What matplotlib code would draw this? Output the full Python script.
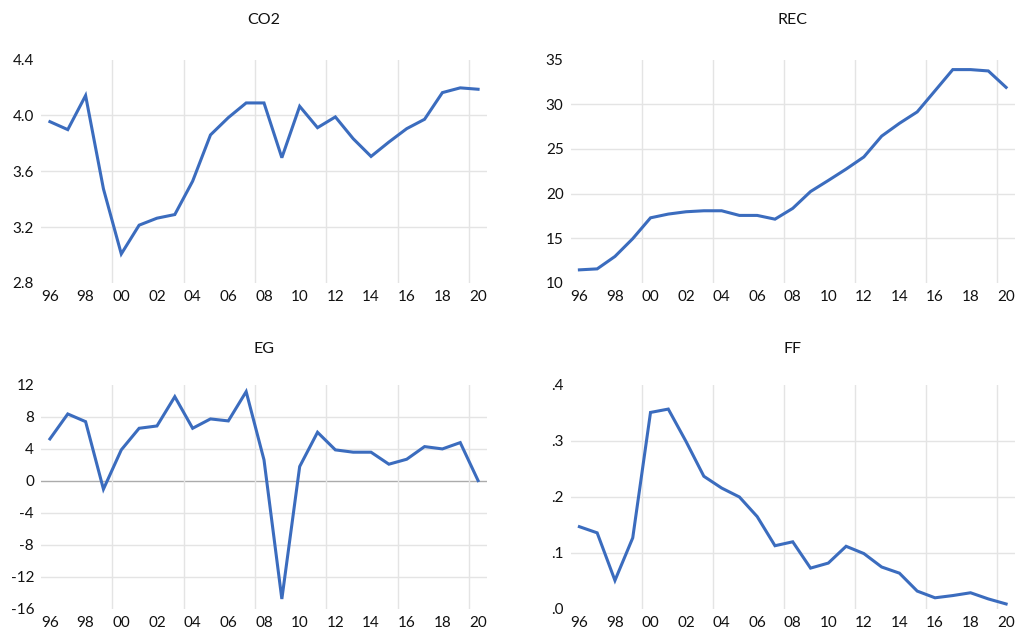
import matplotlib
matplotlib.use("Agg")
import matplotlib.pyplot as plt
from matplotlib.ticker import FixedLocator, FuncFormatter

plt.rcParams['font.family'] = ['Lato', 'DejaVu Sans']

years = list(range(1996, 2021))

co2 = [3.955, 3.898, 4.142, 3.474, 3.008, 3.214, 3.264, 3.290, 3.529, 3.860,
       3.984, 4.089, 4.089, 3.697, 4.065, 3.912, 3.989, 3.833, 3.706, 3.809,
       3.905, 3.972, 4.163, 4.197, 4.187]
rec = [11.47, 11.58, 12.97, 14.96, 17.29, 17.71, 17.97, 18.08, 18.08, 17.56,
       17.56, 17.14, 18.35, 20.23, 21.47, 22.74, 24.10, 26.43, 27.86, 29.14,
       31.50, 33.87, 33.87, 33.72, 31.88]
eg = [5.26, 8.38, 7.42, -1.02, 3.89, 6.59, 6.88, 10.54, 6.59, 7.76,
      7.51, 11.17, 2.64, -14.75, 1.81, 6.09, 3.89, 3.60, 3.60, 2.10,
      2.72, 4.30, 4.01, 4.80, 0.05]
ff = [0.147, 0.136, 0.051, 0.127, 0.351, 0.357, 0.299, 0.237, 0.216, 0.200,
      0.165, 0.113, 0.120, 0.073, 0.082, 0.112, 0.099, 0.075, 0.064, 0.032,
      0.020, 0.024, 0.029, 0.018, 0.009]

titles = ["CO2", "REC", "EG", "FF"]
series = [co2, rec, eg, ff]
ylims = [(2.8, 4.4), (10, 35), (-16, 12), (0.0, 0.4)]
yticks = [[2.8, 3.2, 3.6, 4.0, 4.4],
          [10, 15, 20, 25, 30, 35],
          [-16, -12, -8, -4, 0, 4, 8, 12],
          [0.0, 0.1, 0.2, 0.3, 0.4]]
xlabel_years = list(range(1996, 2021, 2))
xgrid_years = [1999.5, 2003.5, 2007.5, 2011.5, 2015.5, 2019.5]

W, H = 1017, 632
# axes boxes in pixels: left, top, right, bottom
boxes = [(41, 59.5, 487, 283), (570.5, 59.5, 1015, 283),
         (41, 385, 487, 609), (570.5, 385, 1015, 609)]
title_y = [20, 20, 349, 349]

line_color = "#3B6CBE"
grid_color = "#E4E4E4"

fig = plt.figure(figsize=(W / 100, H / 100), dpi=100)

def fmt_factory(i):
    def f(v, pos):
        if i == 0:
            return f"{v:.1f}"
        if i == 3:
            s = f"{v:.1f}"
            return s[1:] if s.startswith("0") else s
        return f"{int(round(v))}"
    return f

for i in range(4):
    l, t, r, b = boxes[i]
    ax = fig.add_axes([l / W, 1 - b / H, (r - l) / W, (b - t) / H])
    ax.set_xlim(1995.5, 2020.5)
    ax.set_ylim(*ylims[i])
    for yv in yticks[i]:
        if yv == ylims[i][0] or yv == ylims[i][1]:
            continue
        if i == 2 and yv == 0:
            ax.axhline(yv, color="#ABABAB", lw=1.0, zorder=1)
        else:
            ax.axhline(yv, color=grid_color, lw=1.0, zorder=1)
    for xv in xgrid_years:
        ax.axvline(xv, color=grid_color, lw=1.0, zorder=1)
    ax.plot(years, series[i], color=line_color, lw=2.2, zorder=3,
            solid_joinstyle="miter")
    ax.yaxis.set_major_locator(FixedLocator(yticks[i]))
    ax.yaxis.set_major_formatter(FuncFormatter(fmt_factory(i)))
    ax.xaxis.set_major_locator(FixedLocator(xlabel_years))
    ax.xaxis.set_major_formatter(FuncFormatter(lambda v, p: f"{int(round(v)) % 100:02d}"))
    ax.tick_params(axis="both", length=0, labelsize=11, colors="#111111")
    ax.tick_params(axis="y", pad=5)
    ax.tick_params(axis="x", pad=5)
    for sp in ax.spines.values():
        sp.set_visible(False)
    fig.text((l + r) / 2 / W, 1 - title_y[i] / H, titles[i], ha="center",
             va="center", fontsize=11.5, color="#111111")

fig.savefig("out.png", dpi=100)
